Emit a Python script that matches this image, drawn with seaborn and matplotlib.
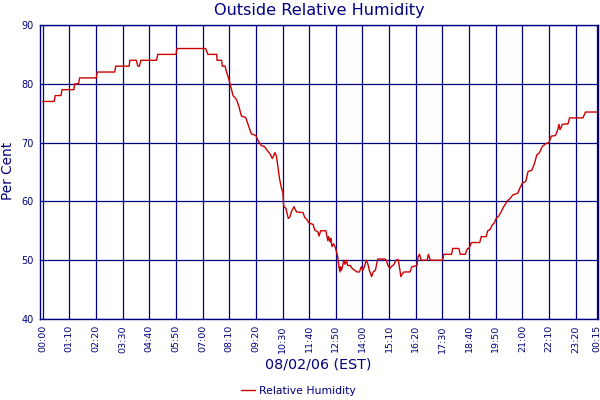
import matplotlib
matplotlib.use("Agg")
import matplotlib.pyplot as plt
import pandas as pd
import seaborn as sns

NAVY = "#000080"
RED = "#CC0000"

# minutes after 00:00 on 08/02/06, relative humidity (%)
minutes = [
    0, 30, 33, 48, 51, 82, 84, 94, 97, 141, 143, 189, 192, 227, 229, 246, 250, 254,
    258, 299, 302, 350, 353, 428, 434, 457, 458, 470, 472, 479, 483, 488, 492, 496,
    500, 507, 511, 516, 522, 533, 540, 548, 560, 566, 574, 583, 592, 598, 603, 607,
    610, 614, 618, 622, 627, 631, 633, 639, 645, 649, 653, 660, 667, 684, 688, 694,
    700, 710, 715, 723, 726, 730, 744, 749, 751, 755, 757, 760, 764, 768, 772, 775,
    778, 781, 782, 785, 788, 791, 794, 798, 801, 808, 813, 819, 826, 832, 837, 841,
    845, 850, 854, 858, 864, 868, 874, 880, 898, 903, 907, 912, 916, 923, 928, 934,
    937, 941, 945, 949, 965, 970, 978, 983, 986, 990, 994, 1010, 1013, 1018, 1051,
    1053, 1074, 1077, 1093, 1097, 1110, 1116, 1120, 1126, 1148, 1152, 1165, 1169,
    1175, 1181, 1187, 1191, 1198, 1204, 1210, 1216, 1222, 1225, 1235, 1248, 1253,
    1260, 1269, 1275, 1285, 1292, 1298, 1305, 1312, 1321, 1330, 1336, 1347, 1353,
    1356, 1359, 1365, 1380, 1384, 1419, 1426, 1458,
]
rh = [
    77, 77, 78, 78, 79, 79, 80, 80, 81, 81, 82, 82, 83, 83, 84, 84, 83, 83,
    84, 84, 85, 85, 86, 86, 85, 85, 84, 84, 83, 83, 82, 81, 80, 79,
    78, 77.5, 77, 76, 74.5, 74.3, 73, 71.5, 71.2, 70.3, 69.5, 69.3, 68.5, 68, 67.3, 67.8,
    68.3, 67.7, 65.8, 63.9, 62.3, 61.5, 59.2, 58.8, 57.1, 57.3, 58.2, 59.1, 58.2, 58.1, 57.3, 56.9,
    56.3, 56.1, 55.1, 54.8, 54.1, 55, 55, 53.3, 54, 53.1, 53.7, 52.3, 52.8, 52.3, 51.4, 50.6,
    48.9, 48, 48.9, 48.3, 49.1, 50, 49.3, 50, 49.1, 49.1, 48.6, 48.3, 48, 48, 48.9, 48.3,
    48.9, 50, 49.4, 48.3, 47.2, 48, 48.3, 50.2, 50.2, 50, 49.1, 48.6, 48.9, 49.3, 50, 50.1,
    48.9, 47.2, 47.7, 48, 48, 48.9, 49, 49.1, 50.6, 51, 50, 50, 51, 50, 50,
    51, 51, 52, 52, 51, 51, 52, 52, 53, 53, 54, 54, 55,
    55.2, 56, 56.4, 57.1, 57.5, 58.2, 59, 59.6, 60.2, 60.3, 61.1, 61.4, 62.2,
    63.1, 63.4, 65.1, 65.3, 66.5, 67.9, 68.3, 69.3, 69.8, 70, 71.1, 71.2, 72.2,
    73.1, 72.2, 73.1, 73.2, 74.2, 74.2, 75.2, 75.2,
]
tick_minutes = list(range(0, 1401, 70)) + [1455]
tick_labels = [f"{(m // 60) % 24:02d}:{m % 60:02d}" for m in tick_minutes]
y_ticks = [40, 50, 60, 70, 80, 90]

df = pd.DataFrame({"minute": minutes, "rh": rh})

sns.set_theme(style="white")
plt.rcParams["font.family"] = ["DejaVu Sans"]

fig = plt.figure(figsize=(6, 4), dpi=100)
ax = fig.add_axes([40.3 / 600, 81 / 400, 558 / 600, 294 / 400])

sns.lineplot(data=df, x="minute", y="rh", color=RED, linewidth=1.0,
             label="Relative Humidity", legend=False, ax=ax)

ax.set_xlim(-6.3, 1459.5)
ax.set_ylim(40, 90)
ax.set_xticks(tick_minutes)
ax.set_xticklabels(tick_labels, rotation=90, fontsize=6.8, color=NAVY)
ax.set_yticks(y_ticks)
ax.set_yticklabels([str(v) for v in y_ticks], fontsize=7, color=NAVY)
ax.tick_params(axis="x", length=0, pad=4.5)
ax.tick_params(axis="y", length=0, pad=5)
ax.grid(True, color=NAVY, linewidth=0.9)
for sp in ax.spines.values():
    sp.set_color(NAVY)
    sp.set_linewidth(1.0)

ax.set_xlabel("")
ax.set_ylabel("")
fig.text(0.532, 0.9725, "Outside Relative Humidity", ha="center", va="center",
         fontsize=11.6, color=NAVY)
fig.text(0.53, 0.0875, "08/02/06 (EST)", ha="center", va="center",
         fontsize=10.3, color=NAVY)
fig.text(0.014, 0.5725, "Per Cent", ha="center", va="center", rotation=90,
         fontsize=9.8, color=NAVY)

handles, labels = ax.get_legend_handles_labels()
leg = fig.legend(handles, labels, loc="center", bbox_to_anchor=(0.497, 0.023),
                 frameon=False, fontsize=7.8, handlelength=1.3, handletextpad=0.35)
for t in leg.get_texts():
    t.set_color(NAVY)

fig.savefig("out.png", dpi=100)
